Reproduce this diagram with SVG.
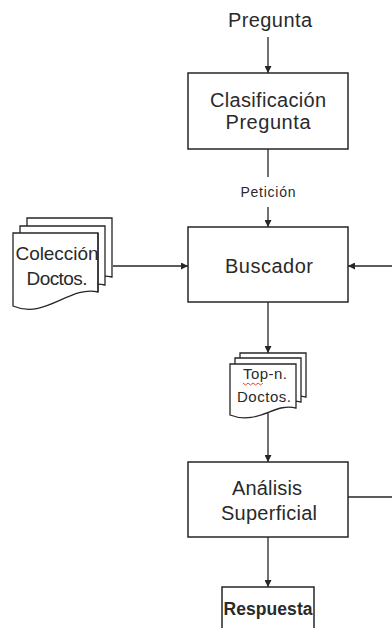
<svg xmlns="http://www.w3.org/2000/svg" width="392" height="628" viewBox="0 0 392 628">
  <style>
    .box { fill: #ffffff; stroke: #262626; stroke-width: 1.5; }
    .doc { fill: #ffffff; stroke: #262626; stroke-width: 1.3; }
    .lbl { font-family: "Liberation Sans", Arial, sans-serif; fill: #2a2a2a; text-anchor: middle; }
    .big { font-size: 20px; }
    .docl { font-size: 19px; }
    .mid { font-size: 15px; }
    .small { font-size: 14px; }
    .edge { fill: none; stroke: #262626; stroke-width: 1.3; }
  </style>
  <defs>
    <marker id="arrow" viewBox="0 0 10 10" refX="10" refY="5" markerWidth="7" markerHeight="7" markerUnits="userSpaceOnUse" orient="auto">
      <path d="M0,0 L10,5 L0,10 Z" fill="#262626"/>
    </marker>
    <!-- document sheet with wavy bottom, origin at top-left -->
    <path id="sheetL" d="M0,0 H85 V59 C57,52 32,87 0,73 Z"/>
    <path id="sheetS" d="M0,0 H66 V44 C45,38 28,62 0,51 Z"/>
  </defs>

  <rect width="392" height="628" fill="#ffffff"/>

  <g id="edges">
    <line class="edge" x1="268" y1="37" x2="268" y2="73" marker-end="url(#arrow)"/>
    <line class="edge" x1="268" y1="149" x2="268" y2="177"/>
    <line class="edge" x1="268" y1="207" x2="268" y2="227" marker-end="url(#arrow)"/>
    <line class="edge" x1="113" y1="266" x2="188" y2="266" marker-end="url(#arrow)"/>
    <line class="edge" x1="392" y1="266" x2="348" y2="266" marker-end="url(#arrow)"/>
    <line class="edge" x1="268" y1="302" x2="268" y2="353" marker-end="url(#arrow)"/>
    <line class="edge" x1="268" y1="412" x2="268" y2="462" marker-end="url(#arrow)"/>
    <line class="edge" x1="348" y1="497" x2="392" y2="497"/>
    <line class="edge" x1="268" y1="537" x2="268" y2="587" marker-end="url(#arrow)"/>
    <text class="lbl small" x="268" y="197" textLength="55" lengthAdjust="spacing">Petición</text>
  </g>

  <g id="pregunta">
    <text class="lbl big" x="270" y="27" textLength="84" lengthAdjust="spacing">Pregunta</text>
  </g>

  <g id="clasificacion">
    <rect class="box" x="188" y="73" width="160" height="76"/>
    <text class="lbl big" x="268" y="107" textLength="116" lengthAdjust="spacing">Clasificación</text>
    <text class="lbl big" x="268" y="129" textLength="85" lengthAdjust="spacing">Pregunta</text>
  </g>

  <g id="coleccion">
    <use href="#sheetL" class="doc" transform="translate(27,218)"/>
    <use href="#sheetL" class="doc" transform="translate(20,226)"/>
    <use href="#sheetL" class="doc" transform="translate(13,233)"/>
    <text class="lbl docl" x="57" y="260" textLength="83" lengthAdjust="spacing">Colección</text>
    <text class="lbl docl" x="57" y="285" textLength="61" lengthAdjust="spacing">Doctos.</text>
    <line x1="98" y1="233" x2="98" y2="292" stroke="#262626" stroke-width="1.3"/>
  </g>

  <g id="buscador">
    <rect class="box" x="188" y="227" width="160" height="75"/>
    <text class="lbl big" x="269" y="273" textLength="88" lengthAdjust="spacing">Buscador</text>
  </g>

  <g id="topn">
    <use href="#sheetS" class="doc" transform="translate(240,353)"/>
    <use href="#sheetS" class="doc" transform="translate(235,358)"/>
    <use href="#sheetS" class="doc" transform="translate(230,364)"/>
    <text class="lbl mid" x="265" y="379" textLength="44" lengthAdjust="spacing">Top-n.</text>
    <text class="lbl mid" x="264" y="402" textLength="54" lengthAdjust="spacing">Doctos.</text>
    <path d="M243,383 l2.5,2 l2.5,-2 l2.5,2 l2.5,-2 l2.5,2 l2.5,-2 l2.5,2 l2.5,-2" fill="none" stroke="#e03030" stroke-width="0.9"/>
  </g>

  <g id="analisis">
    <rect class="box" x="188" y="462" width="160" height="75"/>
    <text class="lbl big" x="267" y="495" textLength="70" lengthAdjust="spacing">Análisis</text>
    <text class="lbl big" x="269" y="520" textLength="96" lengthAdjust="spacing">Superficial</text>
  </g>

  <g id="respuesta">
    <rect class="box" x="222" y="587" width="92" height="50"/>
    <text class="lbl" x="268" y="615" font-size="17.5" font-weight="bold" fill="#111" textLength="89" lengthAdjust="spacing">Respuesta</text>
  </g>
</svg>
